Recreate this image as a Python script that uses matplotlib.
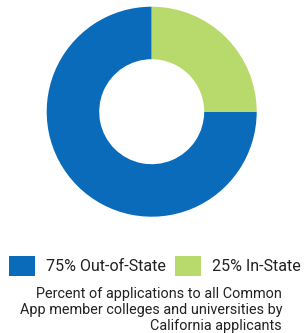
import matplotlib
matplotlib.use("Agg")
import matplotlib.pyplot as plt
from matplotlib.patches import Patch

labels = ["75% Out-of-State", "25% In-State"]
values = [75, 25]
colors = ["#0A6BBA", "#B8D96C"]
caption = "Percent of applications to all Common\nApp member colleges and universities by\nCalifornia applicants"

plt.rcParams['font.family'] = ['Roboto', 'DejaVu Sans']

W, H = 305, 333
fig = plt.figure(figsize=(W / 100, H / 100), dpi=100)
cx, cy, r = 151.7, 111.7, 105
ax = fig.add_axes([(cx - r) / W, (H - cy - r) / H, 2 * r / W, 2 * r / H])
ax.pie(values, colors=colors, startangle=90, counterclock=True,
       radius=1, wedgeprops=dict(width=0.5, edgecolor='none'))
ax.set_xlim(-1, 1)
ax.set_ylim(-1, 1)
ax.set_aspect('equal')
ax.axis('off')

handles = [Patch(facecolor=c, edgecolor='none') for c in colors]
fig.legend(handles, labels, loc='center', bbox_to_anchor=(155 / W, 1 - 266 / H),
           ncol=2, frameon=False, fontsize=11.5, handlelength=1.6, handleheight=1.6,
           handletextpad=0.7, columnspacing=0.6, labelcolor='#222222',
           borderpad=0, borderaxespad=0)

fig.text(282 / W, 1 - 310 / H, caption, ha='right', va='center', fontsize=10.4,
         color='#222222', linespacing=1.17, multialignment='right')

fig.savefig("out.png", dpi=100, facecolor='white')
